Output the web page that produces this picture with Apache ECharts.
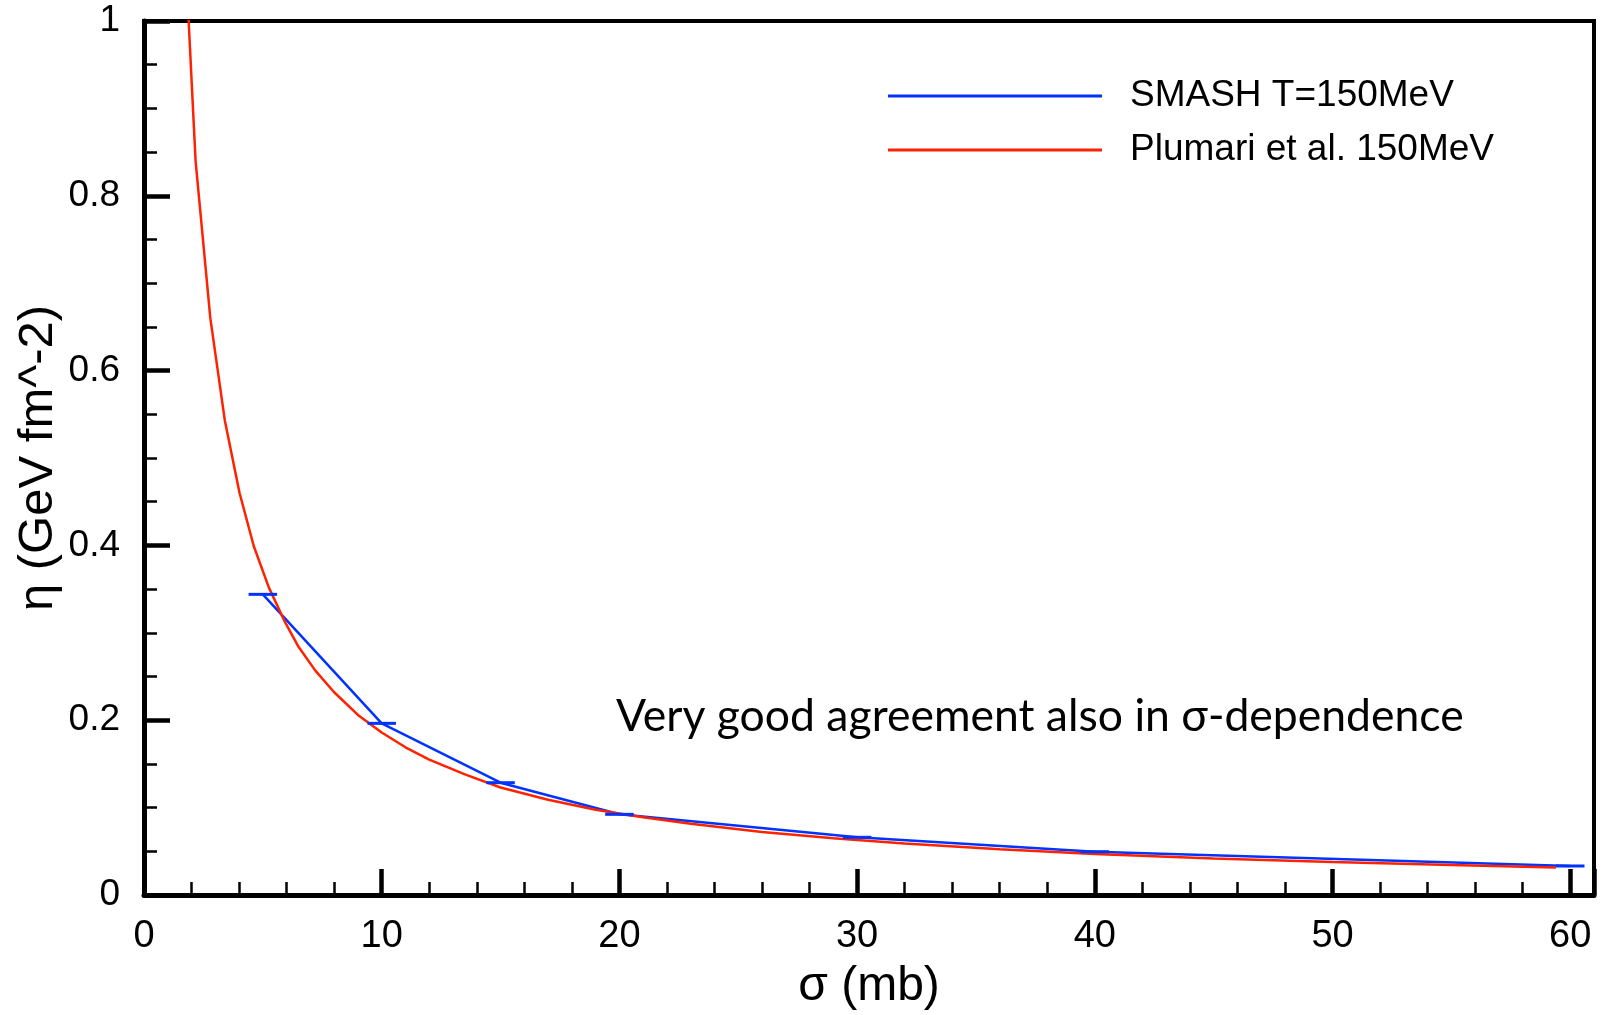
<!DOCTYPE html>
<html><head><meta charset="utf-8">
<script src="https://cdn.jsdelivr.net/npm/echarts@6/dist/echarts.min.js"></script>
<style>html,body{margin:0;padding:0;background:#fff}#c{width:1602px;height:1015px}</style>
</head><body><div id="c"></div>
<script>
// SMASH T=150MeV points with horizontal (sigma) error bars
const smashSigma = [5, 10, 15, 20, 30, 40, 60];
const smashEta = [0.344, 0.1964, 0.1285, 0.0923, 0.066, 0.0495, 0.0332];
const smashSigmaErr = [0.6, 0.6, 0.6, 0.6, 0.6, 0.6, 0.6];

// Plumari et al. 150MeV curve
const plumariSigma = [1.55, 2.17, 2.79, 3.4, 4.02, 4.62, 5.25, 5.9, 6.5, 7.2, 8, 9, 10, 11, 12, 13.5, 15, 17, 19, 21, 23, 26, 29, 32, 36, 40, 45, 50, 55, 59.4];
const plumariEta = [1.18, 0.84, 0.66, 0.543, 0.46, 0.399, 0.352, 0.314, 0.284, 0.257, 0.232, 0.206, 0.186, 0.169, 0.155, 0.138, 0.123, 0.109, 0.0975, 0.089, 0.0815, 0.0722, 0.065, 0.0589, 0.0524, 0.0469, 0.0418, 0.0377, 0.0343, 0.0315];

const xTickLabels = [0, 10, 20, 30, 40, 50, 60];
const yTickLabels = [0, 0.2, 0.4, 0.6, 0.8, 1];

const seriesNames = ['SMASH T=150MeV', 'Plumari et al. 150MeV'];
const axisTitles = { x: 'σ (mb)', y: 'η (GeV fm^-2)' };
const annotation = 'Very good agreement also in σ-dependence';

const BLUE = '#0033ff';
const RED = '#ff2200';
const FONT = 'Liberation Sans';

const chart = echarts.init(document.getElementById('c'), null, { renderer: 'canvas' });

const smashData = smashSigma.map((s, i) => [s, smashEta[i]]);
const errData = smashSigma.map((s, i) => [s, smashEta[i], smashSigmaErr[i]]);
const plumariData = plumariSigma.map((s, i) => [s, plumariEta[i]]);

const option = {
  backgroundColor: '#fff',
  animation: false,
  grid: { left: 144, right: 8, top: 21, bottom: 120, show: true, borderColor: '#000', borderWidth: 4, backgroundColor: 'transparent', containLabel: false, outerBoundsMode: 'none' },
  legend: {
    data: seriesNames,
    orient: 'vertical',
    left: 883, top: 71,
    itemWidth: 214, itemHeight: 3, itemGap: 14,
    icon: 'rect',
    textStyle: { fontFamily: FONT, fontSize: 37, color: '#000', lineHeight: 40, padding: [0, 0, 0, 23] }
  },
  xAxis: {
    type: 'value', min: 0, max: 61, interval: 10,
    name: axisTitles.x, nameLocation: 'middle', nameGap: 68, nameMoveOverlap: false,
    nameTextStyle: { fontFamily: FONT, fontSize: 48, color: '#000' },
    axisLine: { show: true, onZero: false, lineStyle: { color: '#000', width: 5 } },
    axisTick: { show: true, inside: true, length: 26, lineStyle: { color: '#000', width: 4.5 } },
    minorTick: { show: true, splitNumber: 5, length: 13, lineStyle: { color: '#000', width: 2.5 } },
    splitLine: { show: false },
    axisLabel: {
      margin: 23, fontFamily: FONT, fontSize: 38, color: '#000',
      formatter: v => (xTickLabels.indexOf(v) >= 0 ? String(v) : '')
    }
  },
  yAxis: {
    type: 'value', min: 0, max: 1, interval: 0.2,
    name: axisTitles.y, nameLocation: 'middle', nameGap: 81, nameRotate: 90, nameMoveOverlap: false,
    nameTextStyle: { fontFamily: FONT, fontSize: 49, color: '#000' },
    axisLine: { show: true, onZero: false, lineStyle: { color: '#000', width: 5 } },
    axisTick: { show: true, inside: true, length: 26, lineStyle: { color: '#000', width: 4.5 } },
    minorTick: { show: true, splitNumber: 4, length: 13, lineStyle: { color: '#000', width: 2.5 } },
    splitLine: { show: false },
    axisLabel: {
      margin: 24, fontFamily: FONT, fontSize: 37, color: '#000',
      formatter: v => { const t = yTickLabels.find(y => Math.abs(y - v) < 1e-9); return t === undefined ? '' : String(t); }
    }
  },
  graphic: [{
    type: 'text', x: 616, y: 717, z: 100,
    style: { text: annotation, fontFamily: 'Lato', fontSize: 44.5, fill: '#000', align: 'left', verticalAlign: 'middle', textAlign: 'left', textVerticalAlign: 'middle' }
  }],
  series: [
    {
      name: seriesNames[0], type: 'line', data: smashData, symbol: 'none', clip: true,
      itemStyle: { color: BLUE }, lineStyle: { color: BLUE, width: 2.5 }, z: 3
    },
    {
      name: seriesNames[1], type: 'line', data: plumariData, symbol: 'none', clip: true,
      itemStyle: { color: RED }, lineStyle: { color: RED, width: 2.5 }, z: 4
    },
    {
      name: 'smashErr', type: 'custom', data: errData, z: 5, clip: true,
      renderItem: (params, api) => {
        const x = api.value(0), y = api.value(1), e = api.value(2);
        const p1 = api.coord([x - e, y]);
        const p2 = api.coord([x + e, y]);
        return { type: 'line', shape: { x1: p1[0], y1: p1[1], x2: p2[0], y2: p2[1] }, style: { stroke: BLUE, lineWidth: 3 } };
      }
    }
  ]
};
chart.setOption(option);
</script></body></html>
